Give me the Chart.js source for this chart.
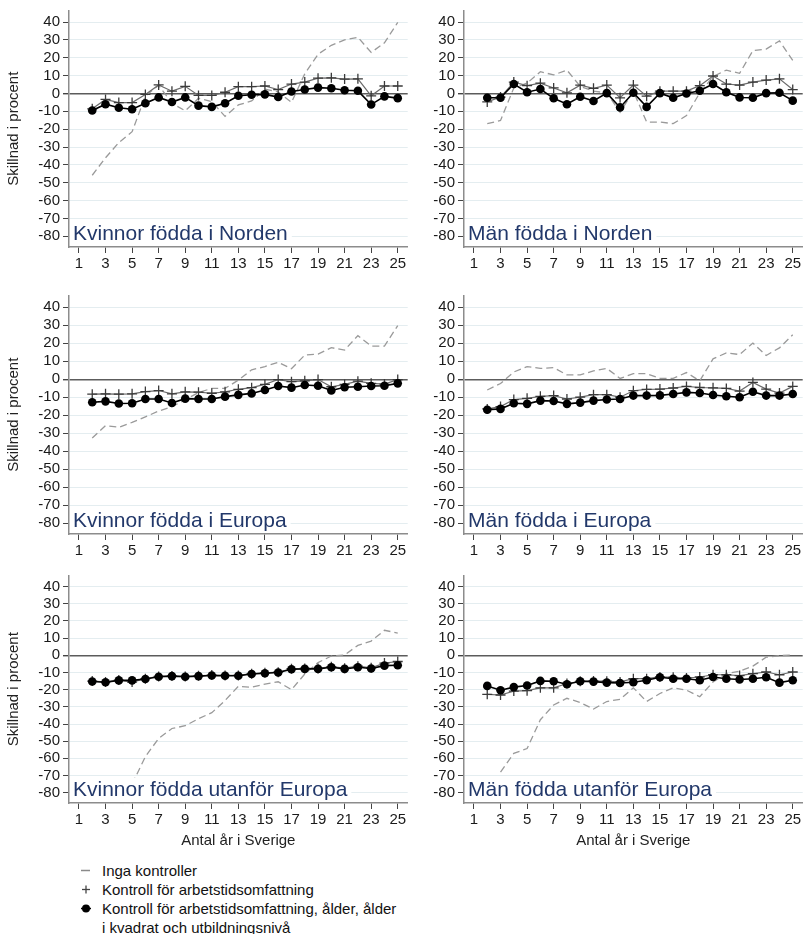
<!DOCTYPE html>
<html>
<head>
<meta charset="utf-8">
<script src="https://cdn.jsdelivr.net/npm/chart.js@4.4.0/dist/chart.umd.min.js"></script>
<style>
  html, body { margin: 0; padding: 0; background: #fff; }
  body { width: 809px; height: 934px; position: relative; overflow: hidden;
         font-family: 'Liberation Sans', Arial, sans-serif; }
  .panel { position: absolute; }
  .legend { position: absolute; left: 78px; top: 861px; font-size: 15px; color: #111; line-height: 19px; }
  .legend .row { position: relative; height: 19px; padding-left: 24px; white-space: nowrap; }
  .legend svg { position: absolute; left: 0; top: 0; }
</style>
</head>
<body>
<div class="legend">
  <div class="row"><svg width="20" height="19"><line x1="3" y1="9.5" x2="12" y2="9.5" stroke="#8a8a8a" stroke-width="1.5"/></svg>Inga kontroller</div>
  <div class="row"><svg width="20" height="19"><line x1="4" y1="9.5" x2="12" y2="9.5" stroke="#444" stroke-width="1.3"/><line x1="8" y1="5.5" x2="8" y2="13.5" stroke="#444" stroke-width="1.3"/></svg>Kontroll för arbetstidsomfattning</div>
  <div class="row"><svg width="20" height="19"><line x1="3" y1="9.5" x2="13" y2="9.5" stroke="#000" stroke-width="1.5"/><circle cx="8" cy="9.5" r="4" fill="#000"/></svg>Kontroll för arbetstidsomfattning, ålder, ålder</div>
  <div class="row">i kvadrat och utbildningsnivå</div>
</div>
<script>
// Years in Sweden (x values of every series) and axis ticks
const years  = [2,3,4,5,6,7,8,9,10,11,12,13,14,15,16,17,18,19,20,21,22,23,24,25];
const xTicks = [1,3,5,7,9,11,13,15,17,19,21,23,25];
const yTicks = [40,30,20,10,0,-10,-20,-30,-40,-50,-60,-70,-80];

const seriesNames = [
  'Inga kontroller',
  'Kontroll för arbetstidsomfattning',
  'Kontroll för arbetstidsomfattning, ålder, ålder i kvadrat och utbildningsnivå'
];

// Kvinnor födda i Norden
const kvNordenInga = [-45.8,-36,-27.5,-21.4,-1.5,4.6,-5.5,-9.7,-2.7,-4.6,-12.8,-6.4,-4.2,2.4,0.9,-5,11,22,27,30,31.5,23,28.4,39.8];
const kvNordenArb  = [-8.6,-3.3,-5.1,-5.1,-0.5,4.8,1.3,4.0,-1.1,-1.1,0.7,3.8,3.8,4.2,2.2,5.3,6.4,8.6,8.8,8.1,8.2,-1.3,4.2,4.2];
const kvNordenFull = [-9.5,-6,-8,-8.8,-5.5,-2.2,-4.8,-2.2,-6.8,-7.5,-5.5,-1.3,-0.7,-0.5,-2,1.1,2.2,3.3,2.9,1.8,1.5,-6.2,-1.6,-2.6];

// Män födda i Norden
const manNordenInga = [-16.9,-15.1,3.1,5.8,12.2,10.4,13.1,4,1.3,0.4,-10.5,1.3,-16,-16,-16.9,-12.4,0.4,9.5,13.1,11.3,24,24.9,29.5,18.5];
const manNordenArb  = [-4.7,-2,6.4,4.4,5.8,3.1,0.4,4.7,2.9,4.7,-2.4,4.7,-1.5,1.3,1.3,1.3,4.4,9.8,5.3,4.7,6.4,7.5,8.2,2.2];
const manNordenFull = [-2.4,-2.4,5.3,0.7,2.5,-2.7,-6,-1.8,-4.2,0.2,-7.8,0.4,-7.5,0.2,-2.4,0,1.5,5.3,0.7,-2.2,-2.4,0.2,0.4,-4];

// Kvinnor födda i Europa
const kvEuropaInga = [-32.7,-25.8,-26.7,-24,-20.9,-17.7,-15.3,-11.4,-7.4,-5.1,-5.1,-0.5,5.2,7,9.4,5.8,13.4,13.9,17.5,16.2,24.2,18.4,18.4,29.8];
const kvEuropaArb  = [-8.3,-8.1,-8.3,-8.1,-6.9,-6.3,-8.1,-7,-7.2,-7.8,-7,-5.6,-4.7,-2.9,-0.2,-1.4,-0.9,-0.2,-4.2,-2.9,-1.1,-2.3,-2.7,-0.2];
const kvEuropaFull = [-12.8,-12.3,-13.5,-13.4,-11,-11,-13.2,-10.8,-11,-11,-9.7,-8.7,-7.9,-6,-3.8,-4.7,-3.2,-3.6,-6.3,-4.5,-4.2,-3.8,-3.6,-2.3];

// Män födda i Europa
const manEuropaInga = [-6,-2.4,4,7,6,6.4,2.4,2.4,4.6,6,0.4,3.1,3.1,0.5,0.5,3.7,-0.9,11.3,14.6,13.7,20.1,13.2,17.4,24.7];
const manEuropaArb  = [-16.5,-15.2,-11.3,-10.6,-9.5,-9.1,-11,-10,-8.6,-8.6,-10,-6.4,-5.7,-5.5,-4.9,-4,-4.6,-4.8,-5.1,-6.6,-1.8,-5.5,-7.7,-4];
const manEuropaFull = [-17,-16.5,-13.4,-13.7,-11.9,-12.1,-13.7,-13,-11.9,-11.3,-11,-9.1,-9.1,-9,-8.2,-7.3,-7.7,-8.8,-9.5,-10,-7,-9.1,-9.1,-8.2];

// Kvinnor födda utanför Europa
const kvUtanforInga = [null,null,null,-75,-59,-48.4,-42.6,-41,-36.9,-33.4,-26.3,-18,-18.6,-16.7,-15.4,-20,-10.9,-4.2,-0.4,0.2,5.8,8.3,14.6,13];
const kvUtanforArb  = [-15,-15.5,-14.4,-15.6,-13.6,-12.3,-12,-12.3,-11.9,-11.5,-11.7,-11.7,-10.7,-10.2,-9.8,-7.8,-7.6,-7.6,-6.6,-7.5,-6.3,-7.3,-4.5,-3.6];
const kvUtanforFull = [-15.2,-15.7,-14.6,-14.6,-13.8,-12.5,-12.1,-12.5,-12.1,-11.7,-11.9,-11.9,-10.9,-10.4,-10,-8.1,-7.9,-7.9,-6.9,-7.9,-6.9,-7.7,-6,-5.8];

// Män födda utanför Europa
const manUtanforInga = [null,-68,-57.1,-54.3,-37.5,-28.9,-25,-27.5,-31.3,-26.9,-25.6,-18.9,-26.9,-22.2,-18.9,-20.3,-24.1,-15.5,-10.7,-9.2,-6.3,-1.1,-0.2,0.2];
const manUtanforArb  = [-22.7,-23.1,-20.8,-20.6,-18.9,-18.9,-16.4,-15.1,-14.9,-15.1,-15.5,-13.6,-13.6,-12.6,-12.8,-13.2,-12.6,-11.3,-11.3,-11.8,-10.7,-9.7,-11.3,-9.7];
const manUtanforFull = [-17.8,-20.3,-18.5,-17.6,-14.9,-15.1,-16.8,-15.1,-15.3,-15.9,-16.1,-15.7,-14.5,-12.8,-13.6,-13.6,-14.5,-12.6,-13.6,-14.1,-13.6,-12.8,-15.9,-14.5];

const FONT = "'Liberation Sans', Arial, sans-serif";

// Panel grid: left/right column, three rows
const panels = [
  { title: 'Kvinnor födda i Norden',      inga: kvNordenInga,   arb: kvNordenArb,   full: kvNordenFull,   left: 0,   top: 0,   w: 414, h: 275, yw: 69, xh: 28, padTop: 8, padRight: 1, yTitle: true,  xTitle: false },
  { title: 'Män födda i Norden',          inga: manNordenInga,  arb: manNordenArb,  full: manNordenFull,  left: 400, top: 0,   w: 409, h: 275, yw: 64, xh: 28, padTop: 8, padRight: 2, yTitle: false, xTitle: false },
  { title: 'Kvinnor födda i Europa',      inga: kvEuropaInga,   arb: kvEuropaArb,   full: kvEuropaFull,   left: 0,   top: 285, w: 414, h: 277, yw: 69, xh: 28, padTop: 7, padRight: 1, yTitle: true,  xTitle: false },
  { title: 'Män födda i Europa',          inga: manEuropaInga,  arb: manEuropaArb,  full: manEuropaFull,  left: 400, top: 285, w: 409, h: 277, yw: 64, xh: 28, padTop: 7, padRight: 2, yTitle: false, xTitle: false },
  { title: 'Kvinnor födda utanför Europa', inga: kvUtanforInga, arb: kvUtanforArb,  full: kvUtanforFull,  left: 0,   top: 565, w: 414, h: 289, yw: 69, xh: 51, padTop: 7, padRight: 1, yTitle: true,  xTitle: true },
  { title: 'Män födda utanför Europa',    inga: manUtanforInga, arb: manUtanforArb, full: manUtanforFull, left: 400, top: 565, w: 409, h: 289, yw: 64, xh: 51, padTop: 7, padRight: 2, yTitle: false, xTitle: true }
];

// Panel label in the lower left corner of the plot area, on a white box
const panelTitlePlugin = {
  id: 'panelTitle',
  afterDatasetsDraw(chart, args, opts) {
    const { ctx, chartArea: a } = chart;
    ctx.save();
    ctx.font = '21px ' + FONT;
    const w = ctx.measureText(opts.text).width;
    const x = a.left + 4, base = a.bottom - 7;
    ctx.fillStyle = '#fff';
    ctx.fillRect(a.left + 1, base - 18, w + 7, 23);
    ctx.fillStyle = '#22386a';
    ctx.textBaseline = 'alphabetic';
    ctx.textAlign = 'left';
    ctx.fillText(opts.text, x, base);
    ctx.restore();
  }
};

const pts = arr => years.map((x, i) => ({ x: x, y: arr[i] }));

panels.forEach(p => {
  const div = document.createElement('div');
  div.className = 'panel';
  div.style.left = p.left + 'px';
  div.style.top = p.top + 'px';
  const canvas = document.createElement('canvas');
  canvas.width = p.w;
  canvas.height = p.h;
  canvas.style.width = p.w + 'px';
  canvas.style.height = p.h + 'px';
  div.appendChild(canvas);
  document.body.appendChild(div);

  new Chart(canvas, {
    type: 'line',
    data: {
      datasets: [
        { label: seriesNames[2], data: pts(p.full), order: 1,
          borderColor: '#000', backgroundColor: '#000', borderWidth: 1.6,
          pointStyle: 'circle', pointRadius: 4.3, pointBorderWidth: 0, pointBackgroundColor: '#000' },
        { label: seriesNames[1], data: pts(p.arb), order: 2,
          borderColor: '#6b6b6b', backgroundColor: '#3a3a3a', borderWidth: 1.2,
          pointStyle: 'cross', pointRadius: 5, pointBorderColor: '#3a3a3a', pointBorderWidth: 1.3 },
        { label: seriesNames[0], data: pts(p.inga), order: 3,
          borderColor: '#9a9a9a', borderWidth: 1.3, borderDash: [7, 4], pointRadius: 0, spanGaps: false }
      ]
    },
    options: {
      responsive: false,
      animation: false,
      events: [],
      layout: { padding: { top: p.padTop, right: p.padRight, left: 0, bottom: 0 } },
      elements: { line: { tension: 0 } },
      plugins: {
        legend: { display: false },
        tooltip: { enabled: false },
        panelTitle: { text: p.title }
      },
      scales: {
        x: {
          type: 'linear', min: 0.25, max: 25.75,
          afterBuildTicks: s => { s.ticks = xTicks.map(v => ({ value: v })); },
          afterFit: s => { s.height = p.xh; },
          grid: { drawOnChartArea: false, drawTicks: true, tickLength: 6, tickColor: '#444', tickWidth: 1 },
          border: { display: true, color: '#8c8c8c', width: 1.5 },
          ticks: { font: { family: FONT, size: 15, lineHeight: 1.2 }, color: '#1a1a1a', padding: 2, maxRotation: 0, autoSkip: false },
          title: { display: p.xTitle, text: 'Antal år i Sverige', font: { family: FONT, size: 15 }, color: '#222', padding: { top: 0, bottom: 4 } }
        },
        y: {
          type: 'linear', min: -86, max: 46.5,
          afterBuildTicks: s => { s.ticks = yTicks.map(v => ({ value: v })); },
          afterFit: s => { s.width = p.yw; },
          grid: {
            color: c => (c.tick && c.tick.value === 0) ? '#5c5c5c' : '#e4edf0',
            lineWidth: c => (c.tick && c.tick.value === 0) ? 1.4 : 1,
            tickColor: '#444', tickLength: 6, drawTicks: true
          },
          border: { display: true, color: '#8c8c8c', width: 1.5 },
          ticks: { font: { family: FONT, size: 15, lineHeight: 1 }, color: '#1a1a1a', padding: 3, autoSkip: false },
          title: { display: p.yTitle, text: 'Skillnad i procent', font: { family: FONT, size: 15 }, color: '#222', padding: { top: 5, bottom: 0 } }
        }
      }
    },
    plugins: [panelTitlePlugin]
  });
});
</script>
</body>
</html>
